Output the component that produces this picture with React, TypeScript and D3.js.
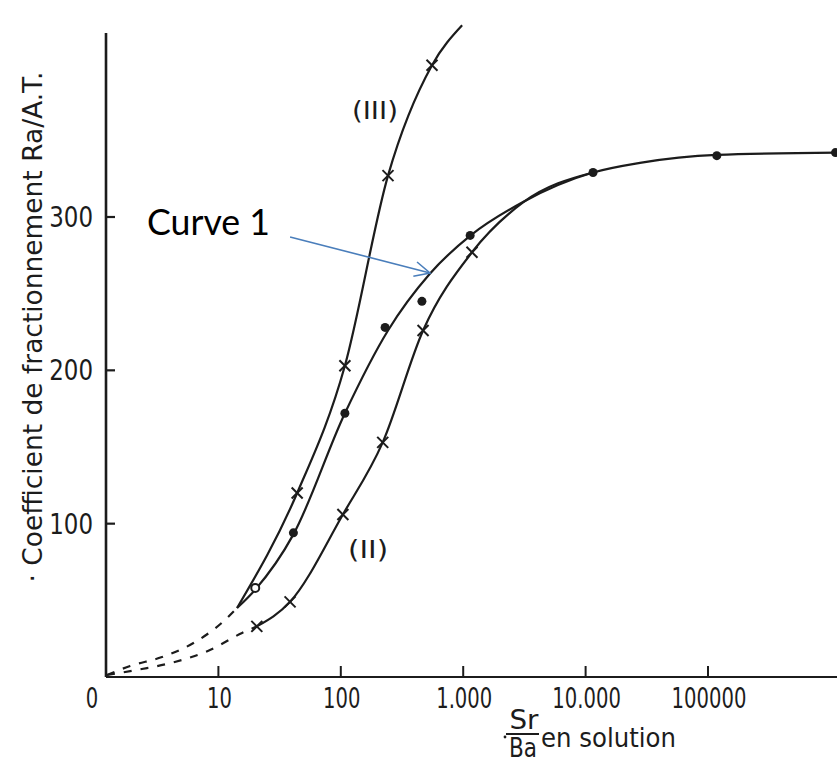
import React from "react";
import * as d3 from "d3";

// ---- data ----
const xTickValues = [1, 10, 100, 1000, 10000, 100000];
const xTickLabels = ["0", "10", "100", "1.000", "10.000", "100000"];
const yTickValues = [100, 200, 300];
const yTickLabels = ["100", "200", "300"];

// Curve (III) – drawn line nodes and × markers
const curve3LineX = [14.2, 44, 108, 243, 556, 980];
const curve3LineY = [45, 120, 203, 327, 399, 425];
const curve3MarkX = [44, 108, 243, 556];
const curve3MarkY = [120, 203, 327, 399];

// Curve 1 – drawn line nodes and • markers
const curve1LineX = [14.2, 20, 41, 108, 243, 534, 1150, 3082, 11500, 27800, 118000, 1132000];
const curve1LineY = [45, 57, 93, 172, 226, 263, 288, 309.8, 329, 335.3, 340.5, 342];
const curve1MarkX = [41, 108, 230, 460, 1140, 11500, 118000, 1100000];
const curve1MarkY = [94, 172, 228, 245, 288, 329, 340, 342];
const openCircleX = [20];
const openCircleY = [58];

// Curve (II) – drawn line nodes and × markers
const curve2LineX = [20.6, 38.5, 104, 220, 470, 1180, 3082, 11500];
const curve2LineY = [33, 49, 106, 153, 226, 277, 309.5, 329];
const curve2MarkX = [20.6, 38.5, 104, 220, 470, 1180];
const curve2MarkY = [33, 49, 106, 153, 226, 277];

// dashed extrapolations toward the origin
const dashUpperX = [1.23, 1.9, 3.46, 6.2, 10.9, 14.2];
const dashUpperY = [1.3, 7.2, 13, 22, 36, 45];
const dashLowerX = [1.23, 2.37, 4.4, 8.2, 15.6, 20.6];
const dashLowerY = [1.3, 5.2, 9.8, 17, 28.7, 33];

// annotations (data coordinates)
const label3 = { text: "(III)", x: 190, y: 370 };
const label2 = { text: "(II)", x: 167, y: 83.5 };
const annotText = { text: "Curve 1", x: 2.61, y: 288.3 };
const arrowTail = { x: 38.5, y: 287 };
const arrowTip = { x: 535.6, y: 263.5 };

const W = 837;
const H = 767;
const INK = "#1c1c1c";
const FONT = "'DejaVu Sans', sans-serif";

export default function App() {
  const x = d3.scaleLog().domain([1, 1132000]).range([96, 837]);
  const y = d3.scaleLinear().domain([0, 420]).range([677, 33]);

  const zip = (xs: number[], ys: number[]) => xs.map((v, i) => [v, ys[i]] as [number, number]);
  const line = d3
    .line<[number, number]>()
    .x((d) => x(d[0]))
    .y((d) => y(d[1]))
    .curve(d3.curveMonotoneX);

  const cross = (px: number, py: number, key: string) => (
    <g key={key} stroke={INK} strokeWidth={2}>
      <line x1={px - 5.5} y1={py - 5.5} x2={px + 5.5} y2={py + 5.5} />
      <line x1={px - 5.5} y1={py + 5.5} x2={px + 5.5} y2={py - 5.5} />
    </g>
  );

  const axisLeft = x(1.207);
  const axisBottom = y(0);

  // arrow geometry
  const tx = x(arrowTip.x), ty = y(arrowTip.y);
  const sx = x(arrowTail.x), sy = y(arrowTail.y);
  const ang = Math.atan2(ty - sy, tx - sx);
  const wing = 17, spread = 0.45;
  const w1 = [tx - wing * Math.cos(ang - spread), ty - wing * Math.sin(ang - spread)];
  const w2 = [tx - wing * Math.cos(ang + spread), ty - wing * Math.sin(ang + spread)];

  return (
    <svg
      width={W}
      height={H}
      viewBox={`0 0 ${W} ${H}`}
      style={{ position: "absolute", left: 0, top: 0, background: "#fff" }}
    >
      <rect x={0} y={0} width={W} height={H} fill="#fff" />

      {/* y axis */}
      <line x1={axisLeft} y1={33} x2={axisLeft} y2={axisBottom} stroke={INK} strokeWidth={2.6} />
      {yTickValues.map((v, i) => (
        <g key={"yt" + i}>
          <line x1={axisLeft} x2={axisLeft + 9} y1={y(v)} y2={y(v)} stroke={INK} strokeWidth={2.2} />
          <text
            transform={`translate(${axisLeft - 13},${y(v) + 10}) scale(0.82,1)`}
            textAnchor="end"
            fontFamily={FONT}
            fontSize={28}
            fill={INK}
          >
            {yTickLabels[i]}
          </text>
        </g>
      ))}

      {/* x axis */}
      <line x1={axisLeft} y1={axisBottom} x2={W} y2={axisBottom} stroke={INK} strokeWidth={2.2} />
      {xTickValues.map((v, i) => (
        <g key={"xt" + i}>
          {i > 0 && (
            <line x1={x(v)} x2={x(v)} y1={axisBottom} y2={axisBottom - 11} stroke={INK} strokeWidth={2} />
          )}
          <text
            transform={`translate(${x(v) + (i === 0 ? -4 : 1)},${axisBottom + 31}) scale(0.7,1)`}
            textAnchor="middle"
            fontFamily={FONT}
            fontSize={28}
            fill={INK}
          >
            {xTickLabels[i]}
          </text>
        </g>
      ))}

      {/* y-axis title */}
      <text
        transform={`translate(42,327) rotate(-90)`}
        textAnchor="middle"
        fontFamily={FONT}
        fontSize={27}
        fill={INK}
        textLength={511}
        lengthAdjust="spacingAndGlyphs"
      >
        · Coefficient de fractionnement Ra/A.T.
      </text>

      {/* x-axis title */}
      <circle cx={505} cy={737} r={1.4} fill={INK} />
      <text x={524} y={729} textAnchor="middle" fontFamily={FONT} fontSize={26} fill={INK}
        textLength={29} lengthAdjust="spacingAndGlyphs">Sr</text>
      <line x1={506} x2={539} y1={734} y2={734} stroke={INK} strokeWidth={2} />
      <text x={523} y={757} textAnchor="middle" fontFamily={FONT} fontSize={26} fill={INK}
        textLength={28} lengthAdjust="spacingAndGlyphs">Ba</text>
      <text x={541} y={747} fontFamily={FONT} fontSize={27} fill={INK}
        textLength={135} lengthAdjust="spacingAndGlyphs">en solution</text>

      {/* dashed extrapolations */}
      <path d={line(zip(dashUpperX, dashUpperY)) || ""} fill="none" stroke={INK} strokeWidth={2.2} strokeDasharray="8 9" />
      <path d={line(zip(dashLowerX, dashLowerY)) || ""} fill="none" stroke={INK} strokeWidth={2.2} strokeDasharray="8 9" />

      {/* curves */}
      <path d={line(zip(curve3LineX, curve3LineY)) || ""} fill="none" stroke={INK} strokeWidth={2.2} />
      <path d={line(zip(curve1LineX, curve1LineY)) || ""} fill="none" stroke={INK} strokeWidth={2.2} />
      <path d={line(zip(curve2LineX, curve2LineY)) || ""} fill="none" stroke={INK} strokeWidth={2.2} />

      {/* markers */}
      {curve3MarkX.map((v, i) => cross(x(v), y(curve3MarkY[i]), "c3" + i))}
      {curve2MarkX.map((v, i) => cross(x(v), y(curve2MarkY[i]), "c2" + i))}
      {curve1MarkX.map((v, i) => (
        <circle key={"c1" + i} cx={x(v)} cy={y(curve1MarkY[i])} r={4.5} fill={INK} />
      ))}
      {openCircleX.map((v, i) => (
        <circle key={"oc" + i} cx={x(v)} cy={y(openCircleY[i])} r={4} fill="#fff" stroke={INK} strokeWidth={2} />
      ))}

      {/* curve labels */}
      <text x={x(label3.x)} y={y(label3.y) + 9} textAnchor="middle" fontFamily={FONT} fontSize={25} fill={INK}
        textLength={46} lengthAdjust="spacingAndGlyphs">{label3.text}</text>
      <text x={x(label2.x)} y={y(label2.y) + 9} textAnchor="middle" fontFamily={FONT} fontSize={25} fill={INK}
        textLength={40} lengthAdjust="spacingAndGlyphs">{label2.text}</text>

      {/* annotation */}
      <text x={x(annotText.x)} y={y(annotText.y)} fontFamily="Lato, 'Open Sans', sans-serif" fontSize={37} fill="#000"
        textLength={123} lengthAdjust="spacingAndGlyphs">{annotText.text}</text>
      <line x1={sx} y1={sy} x2={tx} y2={ty} stroke="#4a7ebb" strokeWidth={1.6} />
      <polyline points={`${w1[0]},${w1[1]} ${tx},${ty} ${w2[0]},${w2[1]}`} fill="none" stroke="#4a7ebb" strokeWidth={1.6} />
    </svg>
  );
}
